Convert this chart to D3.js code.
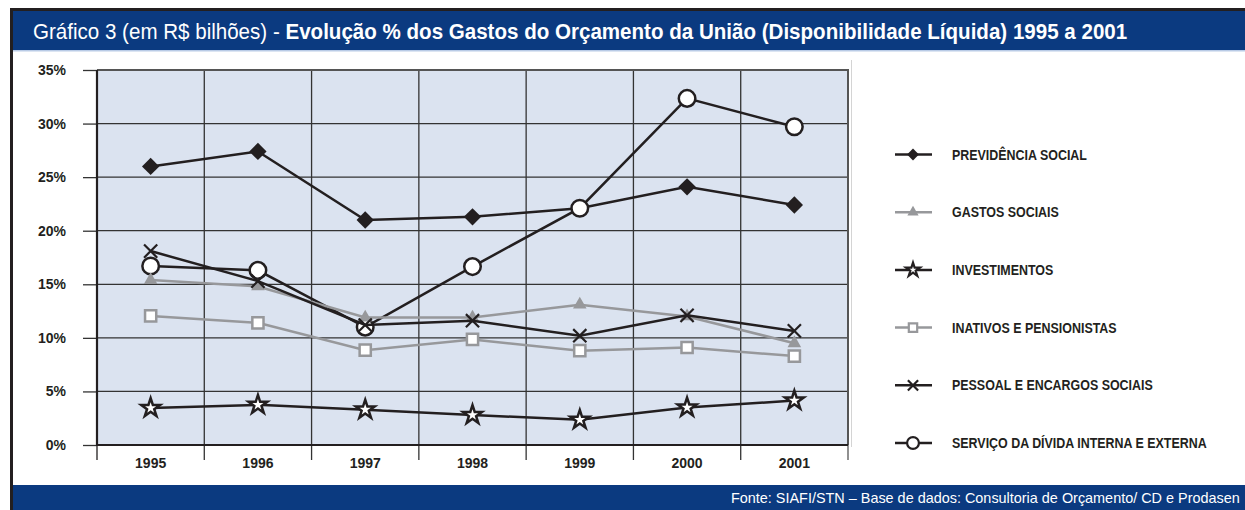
<!DOCTYPE html>
<html>
<head>
<meta charset="utf-8">
<script src="https://cdn.jsdelivr.net/npm/d3@7"></script>
<style>
  html, body { margin: 0; padding: 0; background: #fff; }
  svg { display: block; }
  text { font-family: "Liberation Sans", Arial, sans-serif; }
</style>
</head>
<body>
<script>
// data
const years = ['1995', '1996', '1997', '1998', '1999', '2000', '2001'];
const yTicks = [0, 5, 10, 15, 20, 25, 30, 35];

const previdencia = [26.0, 27.4, 21.0, 21.3, 22.1, 24.1, 22.4];
const gastosSociais = [15.4, 14.8, 11.9, 11.9, 13.1, 12.0, 9.5];
const investimentos = [3.45, 3.75, 3.3, 2.8, 2.35, 3.5, 4.15];
const inativos = [12.05, 11.4, 8.85, 9.85, 8.8, 9.1, 8.3];
const pessoal = [18.1, 15.3, 11.2, 11.6, 10.2, 12.1, 10.65];
const divida = [16.7, 16.3, 11.0, 16.65, 22.1, 32.35, 29.7];

const black = '#231f20';
const grey = '#97989b';
const blue = '#0b3a80';

const series = [
  { name: 'PREVIDÊNCIA SOCIAL', values: previdencia, color: black, symbol: d3.symbolSquare, size: 150, legendSize: 70, rotate: 45, fill: black, stroke: 'none' },
  { name: 'GASTOS SOCIAIS', values: gastosSociais, color: grey, symbol: d3.symbolTriangle, size: 80, legendSize: 55, rotate: 0, fill: grey, stroke: 'none' },
  { name: 'INVESTIMENTOS', values: investimentos, color: black, symbol: d3.symbolStar, size: 110, legendSize: 60, rotate: 0, fill: '#fff', stroke: black },
  { name: 'INATIVOS E PENSIONISTAS', values: inativos, color: grey, symbol: d3.symbolSquare, size: 125, legendSize: 70, rotate: 0, fill: '#fff', stroke: grey },
  { name: 'PESSOAL E ENCARGOS SOCIAIS', values: pessoal, color: black, symbol: d3.symbolTimes, size: 115, legendSize: 70, rotate: 0, fill: 'none', stroke: black },
  { name: 'SERVIÇO DA DÍVIDA INTERNA E EXTERNA', values: divida, color: black, symbol: d3.symbolCircle, size: 215, legendSize: 110, rotate: 0, fill: '#fff', stroke: black }
];
// drawing order (later on top)
const drawOrder = [0, 5, 1, 3, 4, 2];

const W = 1245, H = 510;
const svg = d3.select('body').append('svg').attr('width', W).attr('height', H);

// squeeze a text horizontally so it spans the given width (condensed face look)
function condense (sel, x, y, width) {
  const w = sel.node().getComputedTextLength();
  sel.attr('transform', `translate(${x},${y}) scale(${width / w},1)`);
  return width / w;
}

// frame
svg.append('rect').attr('x', 10).attr('y', 8).attr('width', W - 10).attr('height', 43).attr('fill', black);
svg.append('rect').attr('x', 13).attr('y', 11).attr('width', W - 13).attr('height', 39).attr('fill', blue);
svg.append('rect').attr('x', 13).attr('y', 50).attr('width', W - 13).attr('height', 1.5).attr('fill', '#b9cbe6');
svg.append('rect').attr('x', 10).attr('y', 8).attr('width', 3).attr('height', H - 8).attr('fill', black);
svg.append('rect').attr('x', 13).attr('y', 485).attr('width', W - 13).attr('height', H - 485).attr('fill', blue);
svg.append('line').attr('x1', 851.5).attr('x2', 851.5).attr('y1', 60).attr('y2', 447)
  .attr('stroke', '#d4d4d4').attr('stroke-width', 1);

// title
const title = svg.append('text').attr('fill', '#fff').style('font-size', '22px');
title.append('tspan').text('Gráfico 3 (em R$ bilhões) - ').style('font-weight', 400);
title.append('tspan').text('Evolução % dos Gastos do Orçamento da União (Disponibilidade Líquida) 1995 a 2001').style('font-weight', 700);
condense(title, 33, 39, 1128 - 33);

// footer
const foot = svg.append('text').attr('fill', '#fff')
  .style('font-size', '14.5px').text('Fonte: SIAFI/STN – Base de dados: Consultoria de Orçamento/ CD e Prodasen');
condense(foot, 731, 503, 1240 - 731);

// plot
const plotLeft = 97, plotRight = 848, plotTop = 70, plotBottom = 445;
const x = d3.scaleBand().domain(years).range([plotLeft, plotRight]).padding(0);
const y = d3.scaleLinear().domain([0, 35]).range([plotBottom, plotTop]);
const cx = d => x(d) + x.bandwidth() / 2;

svg.append('rect').attr('x', plotLeft).attr('y', plotTop).attr('width', plotRight - plotLeft).attr('height', plotBottom - plotTop)
  .attr('fill', '#dbe3f0');

// horizontal grid
svg.append('g').selectAll('line').data(yTicks.filter(d => d > 0 && d < 35)).join('line')
  .attr('x1', plotLeft).attr('x2', plotRight).attr('y1', d => y(d)).attr('y2', d => y(d))
  .attr('stroke', '#333').attr('stroke-width', 1.3);
// vertical grid + ticks below
svg.append('g').selectAll('line').data(years.slice(1)).join('line')
  .attr('x1', d => x(d)).attr('x2', d => x(d)).attr('y1', plotTop).attr('y2', plotBottom + 15)
  .attr('stroke', '#333').attr('stroke-width', 1.3);
svg.append('line').attr('x1', plotLeft).attr('x2', plotLeft).attr('y1', plotBottom).attr('y2', plotBottom + 15)
  .attr('stroke', black).attr('stroke-width', 1.3);
svg.append('line').attr('x1', plotRight).attr('x2', plotRight).attr('y1', plotBottom).attr('y2', plotBottom + 15)
  .attr('stroke', '#555').attr('stroke-width', 1.3);

// border
svg.append('path').attr('d', `M${plotLeft},${plotTop}H${plotRight}V${plotBottom}`).attr('fill', 'none')
  .attr('stroke', '#555').attr('stroke-width', 2);

// y axis
const yAxis = svg.append('g').attr('transform', `translate(${plotLeft},0)`)
  .call(d3.axisLeft(y).tickValues(yTicks).tickSize(14).tickPadding(17).tickFormat(d => d + '%'));
yAxis.select('.domain').remove();
yAxis.selectAll('.tick line').attr('stroke', '#333').attr('stroke-width', 1.3);
yAxis.selectAll('.tick text').attr('fill', black).style('font-size', '14px').style('font-weight', 700)
  .style('font-family', '"Liberation Sans", Arial, sans-serif');

// x axis labels
const xAxis = svg.append('g').attr('transform', `translate(0,${plotBottom})`)
  .call(d3.axisBottom(x).tickSize(0).tickPadding(13));
xAxis.select('.domain').remove();
xAxis.selectAll('.tick text').attr('fill', black).style('font-size', '14px').style('font-weight', 700)
  .style('font-family', '"Liberation Sans", Arial, sans-serif');

svg.append('path').attr('d', `M${plotLeft},${plotTop}V${plotBottom}H${plotRight}`).attr('fill', 'none')
  .attr('stroke', black).attr('stroke-width', 2.2);

// series
const line = d3.line().x((d, i) => cx(years[i])).y(d => y(d));
drawOrder.forEach(k => {
  const s = series[k];
  const g = svg.append('g');
  g.append('path').attr('d', line(s.values)).attr('fill', 'none')
    .attr('stroke', s.color).attr('stroke-width', 2.5);
  g.selectAll('path.m').data(s.values).join('path').attr('class', 'm')
    .attr('d', d3.symbol().type(s.symbol).size(s.size))
    .attr('transform', (d, i) => `translate(${cx(years[i])},${y(d)}) rotate(${s.rotate})`)
    .attr('fill', s.fill).attr('stroke', s.stroke).attr('stroke-width', s.symbol === d3.symbolTimes ? 2.2 : 2.5);
});

// legend
const legend = svg.append('g');
let squeeze = null;
series.forEach((s, i) => {
  const ly = 154.5 + i * 57.7;
  const g = legend.append('g').attr('transform', `translate(913,${ly})`);
  g.append('line').attr('x1', -18).attr('x2', 19).attr('stroke', s.color).attr('stroke-width', 2.5);
  g.append('path').attr('d', d3.symbol().type(s.symbol).size(s.legendSize))
    .attr('transform', `rotate(${s.rotate})`)
    .attr('fill', s.fill).attr('stroke', s.stroke).attr('stroke-width', 2.2);
  const t = g.append('text').attr('dy', '0.36em').attr('fill', black)
    .style('font-size', '14px').style('font-weight', 700).text(s.name);
  if (squeeze === null) {
    squeeze = condense(t, 39, 0, 135);
  } else {
    t.attr('transform', `translate(39,0) scale(${squeeze},1)`);
  }
});
</script>
</body>
</html>
